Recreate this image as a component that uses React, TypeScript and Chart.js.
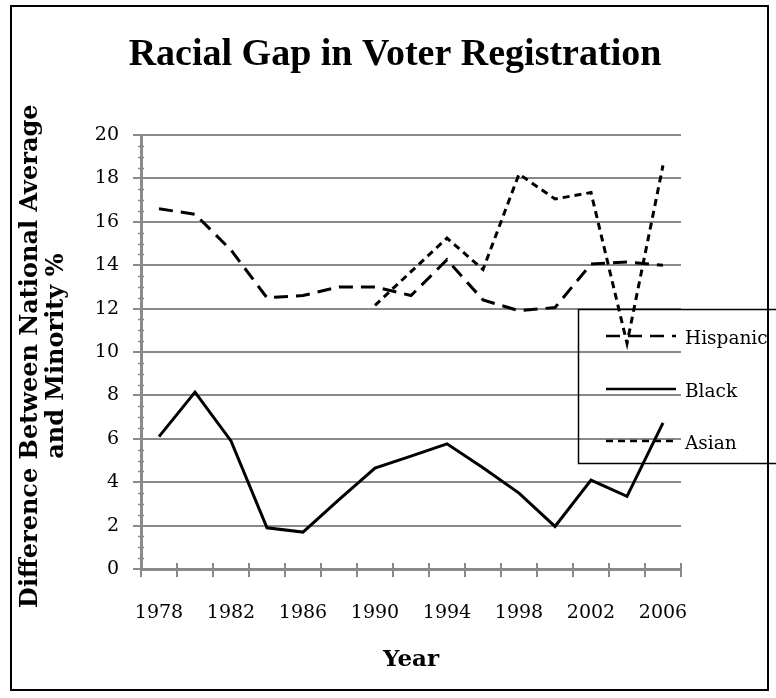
import { useEffect, useRef } from 'react';
import { Chart, registerables } from 'chart.js';

Chart.register(...registerables);

const years = ['1978', '1980', '1982', '1984', '1986', '1988', '1990', '1992', '1994', '1996', '1998', '2000', '2002', '2004', '2006'];
const hispanic = [16.6, 16.35, 14.7, 12.5, 12.6, 13.0, 13.0, 12.6, 14.25, 12.4, 11.9, 12.05, 14.05, 14.15, 14.0];
const black = [6.1, 8.15, 5.9, 1.9, 1.7, 3.2, 4.65, 5.2, 5.77, 4.67, 3.5, 1.96, 4.1, 3.35, 6.73];
const asian = [null, null, null, null, null, null, 12.15, 13.7, 15.25, 13.8, 18.2, 17.05, 17.35, 10.4, 18.6];
const seriesNames = ['Hispanic', 'Black', 'Asian'];
const titleText = 'Racial Gap in Voter Registration';
const yTitle = ['Difference Between National Average ', 'and Minority % '];
const xTitle = 'Year';

const GRID = '#8a8a8a';
const TICK_FONT = { family: '"DejaVu Serif"', size: 19 };

const decorPlugin = {
  id: 'decor',
  beforeDatasetsDraw(chart: any) {
    const ctx = chart.ctx;
    const y = chart.scales.y;
    const x = chart.scales.x;
    ctx.save();
    ctx.strokeStyle = GRID;
    ctx.lineWidth = 1.5;
    for (let v = 0.5; v < 20; v += 0.5) {
      if (Math.abs(v / 2 - Math.round(v / 2)) < 1e-6) continue;
      const py = Math.round(y.getPixelForValue(v)) + 0.5;
      ctx.beginPath();
      ctx.moveTo(x.left - 3, py);
      ctx.lineTo(x.left + 3, py);
      ctx.stroke();
    }
    ctx.lineWidth = 2;
    const n = years.length;
    const step = (x.right - x.left) / n;
    for (let i = 1; i <= n; i++) {
      const px = x.left + i * step;
      ctx.beginPath();
      ctx.moveTo(px, y.bottom);
      ctx.lineTo(px, y.bottom - 6);
      ctx.stroke();
    }
    ctx.restore();
  },
  afterDraw(chart: any) {
    const ctx = chart.ctx;
    ctx.save();
    ctx.fillStyle = '#000';
    ctx.font = 'bold 38px "Liberation Serif"';
    ctx.textAlign = 'center';
    ctx.textBaseline = 'middle';
    ctx.fillText(titleText, 395, 55);
    ctx.strokeStyle = '#000';
    ctx.lineWidth = 2;
    ctx.strokeRect(11, 6, 757, 684);
    ctx.lineWidth = 1.5;
    ctx.strokeRect(578.5, 309.5, 230, 154);
    const ys = [336, 389, 441];
    chart.data.datasets.forEach((ds: any, i: number) => {
      ctx.save();
      ctx.strokeStyle = ds.borderColor;
      ctx.lineWidth = 2.5;
      ctx.setLineDash(ds.borderDash || []);
      ctx.beginPath();
      ctx.moveTo(606, ys[i]);
      ctx.lineTo(676, ys[i]);
      ctx.stroke();
      ctx.restore();
      ctx.fillStyle = '#000';
      ctx.font = '18.5px "DejaVu Serif"';
      ctx.textAlign = 'left';
      ctx.textBaseline = 'middle';
      ctx.fillText(ds.label, 685, ys[i] + 3);
    });
    ctx.restore();
  },
};

export default function App() {
  const ref = useRef<HTMLCanvasElement>(null);
  useEffect(() => {
    document.body.style.margin = '0';
    const chart = new Chart(ref.current as HTMLCanvasElement, {
      type: 'line',
      data: {
        labels: years,
        datasets: [
          { label: seriesNames[0], data: hispanic, borderColor: '#000', borderWidth: 3, borderDash: [14, 8], pointRadius: 0, fill: false, tension: 0 },
          { label: seriesNames[1], data: black, borderColor: '#000', borderWidth: 3, pointRadius: 0, fill: false, tension: 0 },
          { label: seriesNames[2], data: asian, borderColor: '#000', borderWidth: 3, borderDash: [7, 5], pointRadius: 0, fill: false, tension: 0, spanGaps: false },
        ],
      },
      options: {
        responsive: false,
        animation: false,
        layout: { padding: { top: 135, right: 95, bottom: 0, left: 0 } },
        plugins: { legend: { display: false }, title: { display: false }, tooltip: { enabled: false } },
        scales: {
          x: {
            type: 'category',
            offset: true,
            afterFit: (s: any) => { s.height = 129; },
            grid: { display: true, drawOnChartArea: false, drawTicks: true, tickLength: 8, offset: true, color: GRID, lineWidth: 2 },
            border: { display: true, color: GRID, width: 3 },
            ticks: {
              autoSkip: false,
              maxRotation: 0,
              padding: 25,
              color: '#000',
              font: TICK_FONT,
              callback: (_v: any, i: number) => (i % 2 === 0 ? years[i] : ''),
            },
            title: { display: true, text: xTitle, color: '#000', font: { family: '"DejaVu Serif"', size: 23, weight: 'bold' }, padding: { top: 0, bottom: 24 } },
          },
          y: {
            min: 0,
            max: 20,
            afterFit: (s: any) => { s.width = 141; },
            grid: { color: GRID, lineWidth: 2, drawTicks: true, tickLength: 8 },
            border: { display: true, color: GRID, width: 3 },
            ticks: { stepSize: 2, padding: 14, color: '#000', font: TICK_FONT },
            title: { display: true, text: yTitle, color: '#000', font: { family: '"DejaVu Serif"', size: 24, weight: 'bold', lineHeight: 1.08 }, padding: { top: 18, bottom: 0 } },
          },
        },
      },
      plugins: [decorPlugin],
    });
    return () => chart.destroy();
  }, []);
  return <canvas ref={ref} width={776} height={698} style={{ display: 'block' }} />;
}
